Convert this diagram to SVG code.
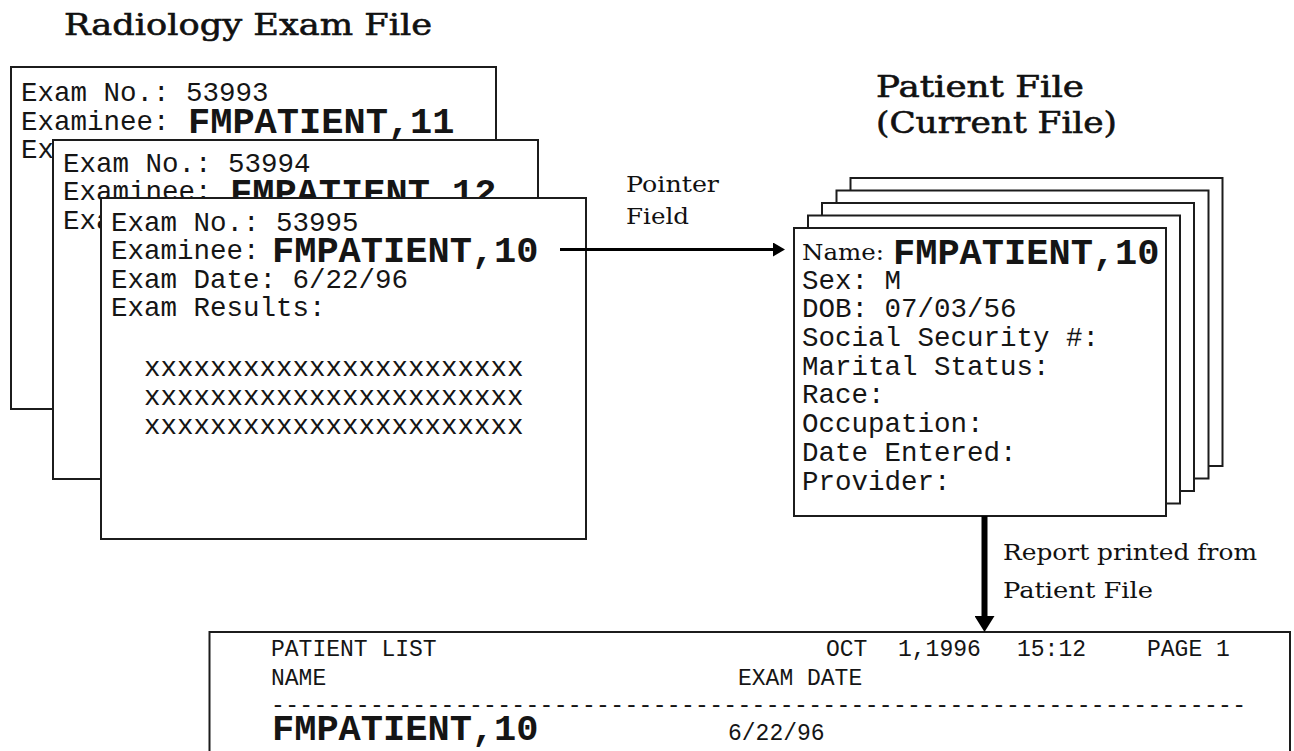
<svg xmlns="http://www.w3.org/2000/svg" width="1294" height="751" viewBox="0 0 1294 751">
<style>
  .card { fill: #ffffff; stroke: #1c1c1c; stroke-width: 2; }
  .mono { font-family: "Liberation Mono", "Courier New", monospace; font-size: 27.5px; fill: #151515; }
  .big { font-family: "Liberation Mono", "Courier New", monospace; font-size: 37px; font-weight: bold; fill: #151515; }
  .rep { font-family: "Liberation Mono", "Courier New", monospace; font-size: 23px; fill: #151515; }
  .title { font-family: "DejaVu Serif", "Liberation Serif", serif; font-size: 30px; fill: #111; stroke: #111; stroke-width: 0.6px; }
  .label { font-family: "DejaVu Serif", "Liberation Serif", serif; font-size: 23px; fill: #111; }
  .conn { stroke: #000; fill: none; }
</style>
<defs>
  <marker id="ahSmall" markerUnits="userSpaceOnUse" markerWidth="13" markerHeight="14" refX="0" refY="7" orient="auto">
    <path d="M0,0 L12,7 L0,14 z" fill="#000"/>
  </marker>
  <marker id="ahBig" markerUnits="userSpaceOnUse" markerWidth="17" markerHeight="20" refX="0" refY="10" orient="auto">
    <path d="M0,0 L16,10 L0,20 z" fill="#000"/>
  </marker>
</defs>
<rect x="0" y="0" width="1294" height="751" fill="#ffffff"/>

<g id="title-radiology">
  <text class="title" x="64" y="35" textLength="368" lengthAdjust="spacingAndGlyphs">Radiology Exam File</text>
</g>
<g id="title-patient">
  <text class="title" x="876" y="97" textLength="208" lengthAdjust="spacingAndGlyphs">Patient File</text>
  <text class="title" x="876" y="133" textLength="241" lengthAdjust="spacingAndGlyphs">(Current File)</text>
</g>

<g id="exam-53993">
  <rect class="card" x="11" y="67" width="485" height="342"/>
  <text class="mono" x="21" y="101">Exam No.: 53993</text>
  <text class="mono" x="21" y="130">Examinee:</text>
  <text class="big" x="188" y="133">FMPATIENT,11</text>
  <text class="mono" x="21" y="158">Ex</text>
</g>

<g id="exam-53994">
  <rect class="card" x="53" y="140" width="485" height="339"/>
  <text class="mono" x="63" y="171.5">Exam No.: 53994</text>
  <text class="mono" x="63" y="200">Examinee:</text>
  <text class="big" x="230" y="203.5">FMPATIENT,12</text>
  <text class="mono" x="63" y="229">Exa</text>
</g>

<g id="exam-53995">
  <rect class="card" x="101" y="198" width="485" height="341"/>
  <text class="mono" x="111" y="230.5">Exam No.: 53995</text>
  <text class="mono" x="111" y="259">Examinee:</text>
  <text class="big" x="272" y="262">FMPATIENT,10</text>
  <text class="mono" x="111" y="287.5">Exam Date: 6/22/96</text>
  <text class="mono" x="111" y="316">Exam Results:</text>
  <text class="mono" x="144" y="376">xxxxxxxxxxxxxxxxxxxxxxx</text>
  <text class="mono" x="144" y="405">xxxxxxxxxxxxxxxxxxxxxxx</text>
  <text class="mono" x="144" y="433.5">xxxxxxxxxxxxxxxxxxxxxxx</text>
</g>

<g id="patient-file">
  <rect class="card" x="850.5" y="178" width="372" height="288"/>
  <rect class="card" x="836.5" y="190.5" width="372" height="288"/>
  <rect class="card" x="822" y="203" width="372" height="288"/>
  <rect class="card" x="808" y="215.5" width="372" height="288"/>
  <rect class="card" x="794" y="228" width="372" height="288"/>
  <text class="label" x="802" y="260" font-size="21" textLength="82" lengthAdjust="spacingAndGlyphs">Name:</text>
  <text class="big" x="893" y="263.5">FMPATIENT,10</text>
  <text class="mono" x="802" y="288.5">Sex: M</text>
  <text class="mono" x="802" y="317">DOB: 07/03/56</text>
  <text class="mono" x="802" y="346">Social Security #:</text>
  <text class="mono" x="802" y="374.5">Marital Status:</text>
  <text class="mono" x="802" y="403">Race:</text>
  <text class="mono" x="802" y="432">Occupation:</text>
  <text class="mono" x="802" y="461">Date Entered:</text>
  <text class="mono" x="802" y="490">Provider:</text>
</g>

<g id="report">
  <rect class="card" x="209.5" y="632" width="1080.5" height="130"/>
  <text class="rep" x="271" y="656">PATIENT LIST</text>
  <text class="rep" x="826" y="656">OCT</text>
  <text class="rep" x="898" y="656">1,1996</text>
  <text class="rep" x="1017" y="656">15:12</text>
  <text class="rep" x="1147" y="656">PAGE 1</text>
  <text class="rep" x="271" y="685">NAME</text>
  <text class="rep" x="738" y="685">EXAM DATE</text>
  <text class="rep" x="271" y="712" textLength="975" lengthAdjust="spacing">---------------------------------------------------------------------</text>
  <text class="big" x="272" y="740">FMPATIENT,10</text>
  <text class="rep" x="728" y="740">6/22/96</text>
</g>

<g id="connectors">
  <line class="conn" x1="560" y1="249.5" x2="773" y2="249.5" stroke-width="3" marker-end="url(#ahSmall)"/>
  <line class="conn" x1="984.5" y1="516" x2="984.5" y2="616" stroke-width="6" marker-end="url(#ahBig)"/>
  <text class="label" x="626" y="192" textLength="93" lengthAdjust="spacingAndGlyphs">Pointer</text>
  <text class="label" x="626" y="224" textLength="63" lengthAdjust="spacingAndGlyphs">Field</text>
  <text class="label" x="1003" y="560" textLength="254" lengthAdjust="spacingAndGlyphs">Report printed from</text>
  <text class="label" x="1003" y="598" textLength="150" lengthAdjust="spacingAndGlyphs">Patient File</text>
</g>
</svg>
